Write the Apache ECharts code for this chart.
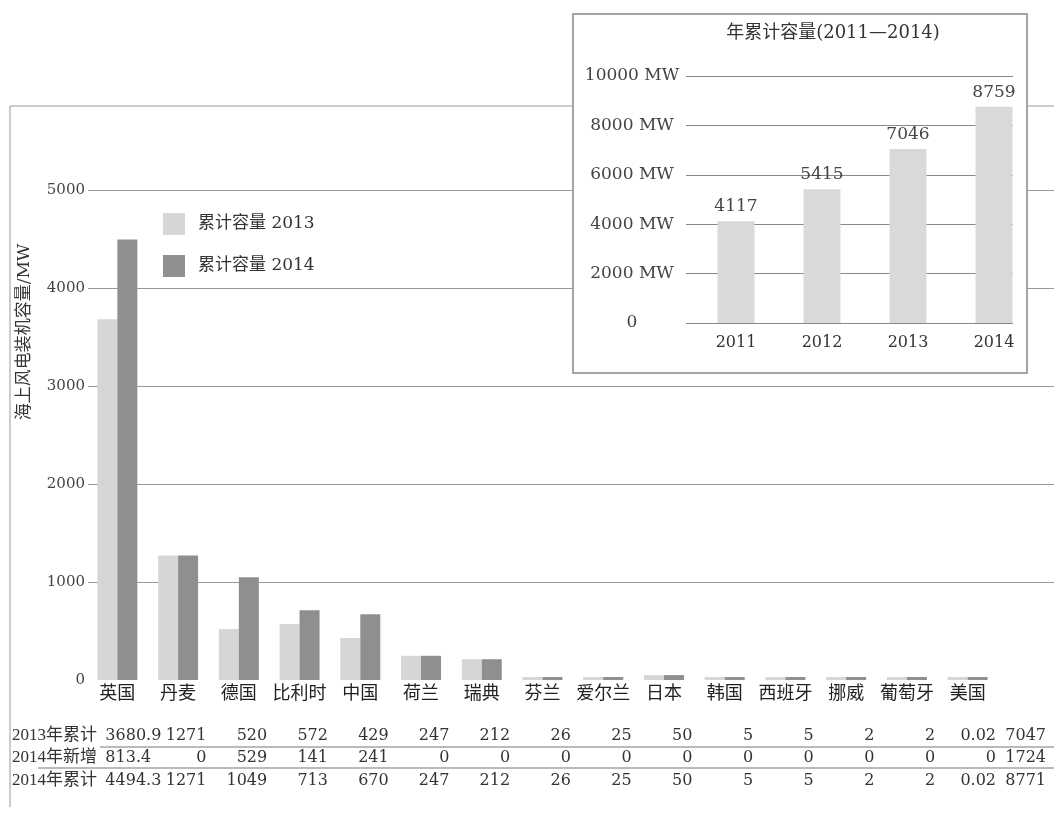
<!DOCTYPE html>
<html>
<head>
<meta charset="utf-8">
<script src="https://cdn.jsdelivr.net/npm/echarts@6/dist/echarts.min.js"></script>
<style>
  html, body { margin: 0; padding: 0; background: #fff; }
  #chart { width: 1054px; height: 816px; }
</style>
</head>
<body>
<div id="chart"></div>
<script>
// country data (MW)
const countries = ['英国', '丹麦', '德国', '比利时', '中国', '荷兰', '瑞典', '芬兰', '爱尔兰', '日本', '韩国', '西班牙', '挪威', '葡萄牙', '美国'];
const cum2013 = [3680.9, 1271, 520, 572, 429, 247, 212, 26, 25, 50, 5, 5, 2, 2, 0.02];
const new2014 = [813.4, 0, 529, 141, 241, 0, 0, 0, 0, 0, 0, 0, 0, 0, 0];
const cum2014 = [4494.3, 1271, 1049, 713, 670, 247, 212, 26, 25, 50, 5, 5, 2, 2, 0.02];
const rowNames = ['2013年累计', '2014年新增', '2014年累计'];
const rowTotals = ['7047', '1724', '8771'];

// inset: yearly totals
const years = ['2011', '2012', '2013', '2014'];
const yearTotals = [4117, 5415, 7046, 8759];

const FONT = "'DejaVu Serif', 'Noto Sans CJK SC'";
const NARROW = "'Liberation Serif', 'Noto Sans CJK SC'";
const chart = echarts.init(document.getElementById('chart'));

chart.setOption({
  animation: false,
  legend: {
    data: ['累计容量 2013', '累计容量 2014'],
    orient: 'vertical', left: 158, top: 208,
    itemWidth: 22, itemHeight: 22, itemGap: 20, icon: 'rect',
    textStyle: { fontSize: 17, color: '#333', fontFamily: FONT, padding: [0, 0, 0, 8] }
  },
  grid: [
    { left: 88, right: 0, top: 190, bottom: 136 },       // main gridlines
    { left: 87, right: 56, top: 190, bottom: 136 },      // main bars
    { left: 686, top: 76, width: 327, height: 247 },     // inset gridlines
    { left: 693, top: 76, width: 344, height: 247 }      // inset bars
  ],
  xAxis: [
    { gridIndex: 0, type: 'category', data: countries, show: false },
    {
      gridIndex: 1, type: 'category', data: countries,
      axisLine: { show: false }, axisTick: { show: false },
      axisLabel: { interval: 0, fontSize: 18, color: '#222', margin: 5, fontFamily: FONT }
    },
    { gridIndex: 2, type: 'category', data: years, show: false },
    {
      gridIndex: 3, type: 'category', data: years, z: 2,
      axisLine: { show: false }, axisTick: { show: false },
      axisLabel: { fontSize: 16, color: '#333', margin: 12, fontFamily: FONT }
    }
  ],
  yAxis: [
    {
      gridIndex: 0, type: 'value', min: 0, max: 5000, interval: 1000, z: 0,
      axisLine: { show: false }, axisTick: { show: false },
      axisLabel: { fontSize: 15, color: '#444', margin: 3, fontFamily: FONT, formatter: v => String(v) },
      splitLine: { lineStyle: { color: ['rgba(0,0,0,0)', '#999', '#999', '#999', '#999', '#999'] } }
    },
    { gridIndex: 1, type: 'value', min: 0, max: 5000, show: false, splitLine: { show: false } },
    {
      gridIndex: 2, type: 'value', min: 0, max: 10000, interval: 2000, z: 2,
      axisLine: { show: false }, axisTick: { show: false },
      axisLabel: {
        fontSize: 17, color: '#444', margin: 54, align: 'center', fontFamily: FONT,
        formatter: v => (v === 0 ? '0' : v + ' MW')
      },
      splitLine: { lineStyle: { color: '#888' } }
    },
    { gridIndex: 3, type: 'value', min: 0, max: 10000, show: false, splitLine: { show: false } }
  ],
  series: [
    {
      name: '累计容量 2013', type: 'bar', xAxisIndex: 1, yAxisIndex: 1,
      data: cum2013, barWidth: 20, barGap: '0%', barMinHeight: 3,
      itemStyle: { color: '#d6d6d6' }
    },
    {
      name: '累计容量 2014', type: 'bar', xAxisIndex: 1, yAxisIndex: 1,
      data: cum2014, barWidth: 20, barGap: '0%', barMinHeight: 3,
      itemStyle: { color: '#8f8f8f' }
    },
    {
      name: '年累计容量', type: 'bar', xAxisIndex: 3, yAxisIndex: 3, z: 3,
      data: yearTotals, barWidth: 37,
      itemStyle: { color: '#d9d9d9' },
      label: { show: true, position: 'top', distance: 6, fontSize: 17, color: '#444', fontFamily: FONT }
    }
  ]
});

// table under the chart, columns follow the category axis
const txt = (text, x, y, align, font) => ({
  type: 'text', x, y, z: 5,
  style: {
    text, font: font || ('16px ' + FONT), fill: '#333',
    textAlign: align, textVerticalAlign: 'middle'
  }
});

const cx = countries.map(c => chart.convertToPixel({ xAxisIndex: 1 }, c));
const band = cx[1] - cx[0];
const rows = [cum2013, new2014, cum2014];
const rowY = [736, 758, 781];

const graphics = [
  // outer frame of main chart
  { type: 'line', z: 0, shape: { x1: 10, y1: 106, x2: 1054, y2: 106 }, style: { stroke: '#999', lineWidth: 1 } },
  { type: 'line', z: 0, shape: { x1: 10, y1: 106, x2: 10, y2: 807 }, style: { stroke: '#999', lineWidth: 1 } },
  // inset box
  { type: 'rect', z: 1, shape: { x: 573, y: 14, width: 454, height: 359 }, style: { fill: '#fff', stroke: '#888', lineWidth: 1.5 } },
  txt('年累计容量(2011—2014)', 833, 33, 'center', '18px ' + FONT),
  // y axis name
  {
    type: 'text', x: 25, y: 332, rotation: Math.PI / 2, z: 5,
    style: { text: '海上风电装机容量/MW', font: '17px ' + FONT, fill: '#333', textAlign: 'center', textVerticalAlign: 'middle' }
  },
  // table rules
  { type: 'line', z: 5, shape: { x1: 100, y1: 747, x2: 1054, y2: 747 }, style: { stroke: '#777', lineWidth: 1 } },
  { type: 'line', z: 5, shape: { x1: 38, y1: 768, x2: 1054, y2: 768 }, style: { stroke: '#777', lineWidth: 1 } }
];

rows.forEach((vals, r) => {
  graphics.push(txt(rowNames[r], 12, rowY[r], 'left', '17px ' + NARROW));
  vals.forEach((v, i) => {
    if (i === 0) graphics.push(txt(String(v), cx[0] - 12, rowY[r], 'left'));
    else graphics.push(txt(String(v), cx[i] + band / 2 - 2, rowY[r], 'right'));
  });
  graphics.push(txt(rowTotals[r], 1046, rowY[r], 'right'));
});

chart.setOption({ graphic: graphics });
</script>
</body>
</html>
